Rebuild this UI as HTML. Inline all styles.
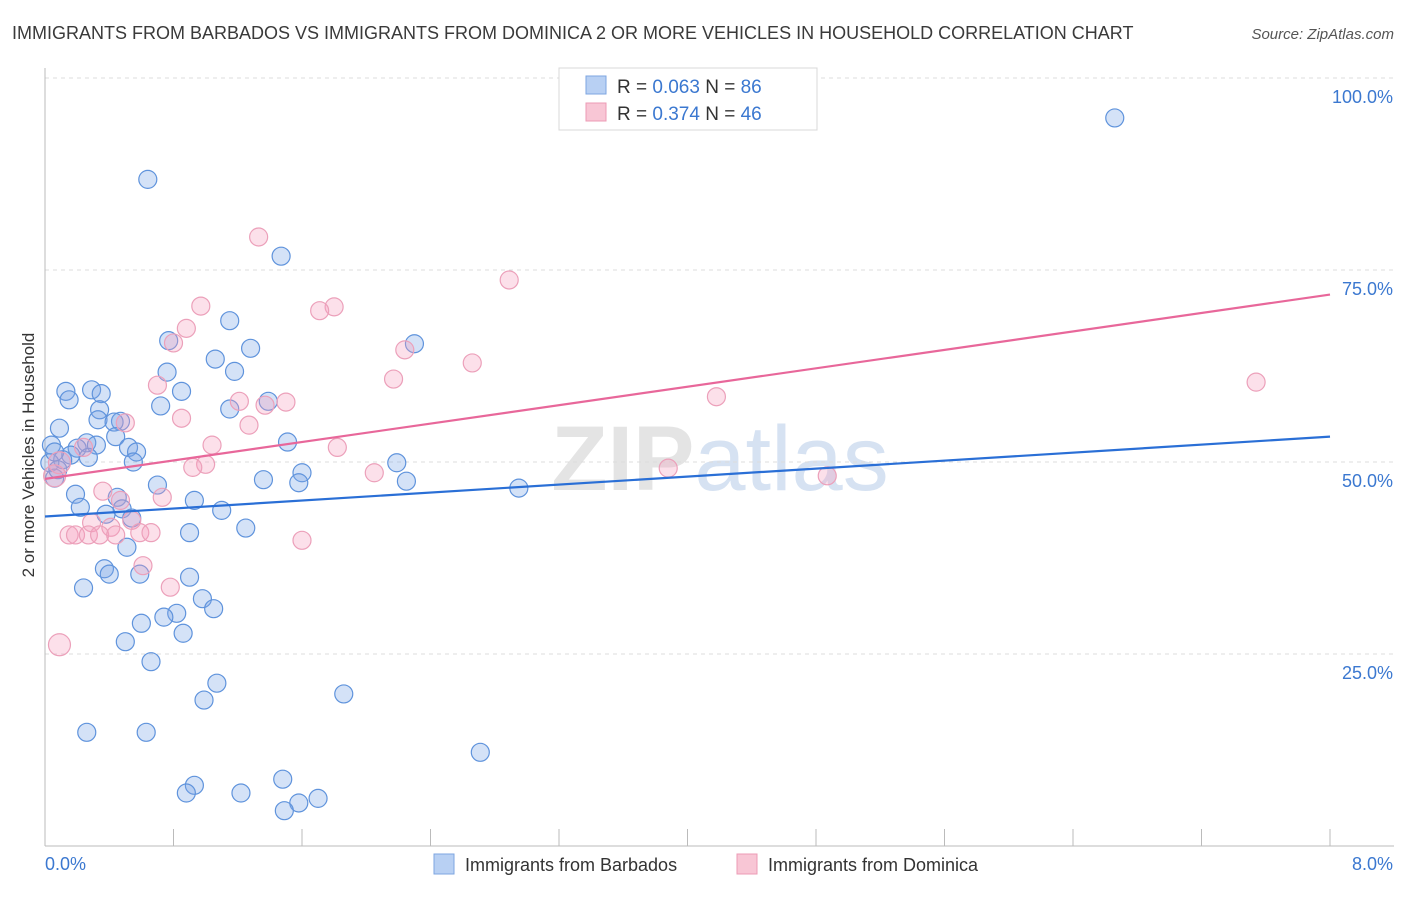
<!DOCTYPE html>
<html><head><meta charset="utf-8">
<style>
body{margin:0;background:#fff;font-family:"Liberation Sans",sans-serif;}
svg text{font-family:"Liberation Sans",sans-serif;}
</style></head>
<body>
<svg id="chart" width="1406" height="892" xmlns="http://www.w3.org/2000/svg">
<text x="12" y="39" font-size="18" fill="#3a3a3a">IMMIGRANTS FROM BARBADOS VS IMMIGRANTS FROM DOMINICA 2 OR MORE VEHICLES IN HOUSEHOLD CORRELATION CHART</text>
<text x="1394" y="39" font-size="15" fill="#555" text-anchor="end" font-style="italic">Source: ZipAtlas.com</text>
<text x="720" y="490" font-size="92" fill="#e4e4e4" text-anchor="middle" font-family="Liberation Serif" font-weight="bold">ZIP<tspan fill="#d6e2f2" font-family="Liberation Sans" font-weight="normal">atlas</tspan></text>
<g id="grid"></g>
<g id="axes"></g>
<g id="points"></g>
<g id="trends"></g>
<text transform="translate(34,455) rotate(-90)" font-size="17" fill="#333" text-anchor="middle">2 or more Vehicles in Household</text>
<g>
<rect x="559" y="68" width="258" height="62" fill="#fff" stroke="#d8d8d8"/>
<rect x="586" y="76" width="20" height="18" fill="#b8d0f3" stroke="#7ea6e0"/>
<rect x="586" y="103" width="20" height="18" fill="#f8c6d5" stroke="#ec9bb5"/>
<text x="617" y="93" font-size="19" fill="#333">R = <tspan fill="#3b78d0">0.063</tspan>   N = <tspan fill="#3b78d0">86</tspan></text>
<text x="617" y="120" font-size="19" fill="#333">R =  <tspan fill="#3b78d0">0.374</tspan>   N = <tspan fill="#3b78d0">46</tspan></text>
</g>
<g>
<rect x="434" y="854" width="20" height="20" fill="#b8d0f3" stroke="#7ea6e0"/>
<text x="465" y="871" font-size="18" fill="#333">Immigrants from Barbados</text>
<rect x="737" y="854" width="20" height="20" fill="#f8c6d5" stroke="#ec9bb5"/>
<text x="768" y="871" font-size="18" fill="#333">Immigrants from Dominica</text>
</g>
</svg>
<script>
const blueX=[6.66,0.64,1.47,1.15,0.77,1.28,2.30,1.06,1.18,0.76,0.13,0.29,0.35,0.85,0.15,1.39,0.72,1.15,0.34,0.33,0.47,0.43,0.09,0.44,1.51,0.04,0.26,0.32,0.52,0.57,0.20,0.16,0.27,0.11,0.55,2.19,0.03,1.60,1.36,1.58,2.25,0.06,0.70,2.95,0.19,0.45,0.93,0.22,0.48,1.10,0.38,0.54,1.25,0.90,0.51,0.37,0.40,0.59,0.90,0.24,0.98,1.05,0.82,0.74,0.60,0.86,0.50,0.66,1.07,1.86,0.99,0.26,0.63,2.71,0.93,1.48,0.88,1.22,1.70,1.58,1.49,0.06,0.08];
const blueY=[94.8,86.8,76.8,68.4,65.8,64.8,65.4,63.4,61.8,61.7,59.2,59.4,58.9,59.2,58.1,57.9,57.3,56.9,56.8,55.5,55.3,55.2,54.4,53.3,52.6,52.2,52.5,52.2,51.9,51.3,51.8,50.9,50.6,50.3,50.0,49.9,49.9,48.6,47.7,47.3,47.5,47.9,47.0,46.6,45.8,45.4,45.0,44.1,43.9,43.7,43.2,42.7,41.4,40.8,38.9,36.1,35.4,35.4,35.0,33.6,32.2,30.9,30.3,29.8,29.0,27.7,26.6,24.0,21.2,19.8,19.0,14.8,14.8,12.2,7.9,8.7,6.9,6.9,6.2,5.6,4.6,51.3,49.0];
const pinkX=[1.33,2.89,0.97,1.80,1.71,0.88,0.80,2.24,2.66,2.17,0.70,7.54,1.21,1.50,1.37,4.18,0.85,0.50,1.27,0.24,1.04,1.82,1.00,0.92,2.05,3.88,4.87,0.09,0.06,0.36,0.47,0.73,0.54,0.29,0.41,0.15,0.19,0.27,0.34,0.44,0.59,0.66,1.60,0.61,0.78,0.09];
const pinkY=[79.3,73.7,70.3,70.2,69.7,67.4,65.5,64.6,62.9,60.8,60.0,60.4,57.9,57.8,57.4,58.5,55.7,55.1,54.8,51.9,52.2,51.9,49.7,49.3,48.6,49.2,48.2,49.9,48.2,46.2,45.0,45.4,42.4,42.1,41.5,40.5,40.5,40.5,40.5,40.5,40.8,40.8,39.8,36.5,33.7,26.2];
const yTicks=[25,50,75,100];
const yTickLabels=["25.0%","50.0%","75.0%","100.0%"];
const blueTrend=[42.9,53.3];
const pinkTrend=[47.8,71.8];
const X0=45,X1=1330,Y0=846,Y100=78;
const sx=v=>X0+(v/8)*(X1-X0);
const sy=v=>Y0-(v/100)*(Y0-Y100);
const NS="http://www.w3.org/2000/svg";
function mk(tag,attrs,parent){const e=document.createElementNS(NS,tag);for(const k in attrs)e.setAttribute(k,attrs[k]);document.getElementById(parent).appendChild(e);return e;}
yTicks.forEach((t,i)=>{
  const l=mk('line',{x1:X0,x2:1394,y1:sy(t),y2:sy(t),stroke:'#dcdcdc','stroke-dasharray':'4,4'},'grid');
  
  
  const tx=mk('text',{x:1393,y:sy(t)+25,'font-size':18,fill:'#3b78d0','text-anchor':'end'},'grid');
  tx.textContent=yTickLabels[i];
  
  
});
const ax=mk('line',{x1:X0,x2:X0,y1:68,y2:846,stroke:'#bbb'},'axes');


const bx=mk('line',{x1:X0,x2:1394,y1:846,y2:846,stroke:'#bbb'},'axes');


for(let i=0;i<=10;i++){const t=mk('line',{x1:sx(i*0.8),x2:sx(i*0.8),y1:829,y2:846,stroke:'#bbb'},'axes');
  
  }
const xl=mk('text',{x:45,y:870,'font-size':18,fill:'#3b78d0'},'axes');xl.textContent='0.0%';


const xr=mk('text',{x:1393,y:870,'font-size':18,fill:'#3b78d0','text-anchor':'end'},'axes');xr.textContent='8.0%';


blueX.forEach((x,i)=>{const c=mk('circle',{cx:sx(x),cy:sy(blueY[i]),r:9,fill:'rgba(120,165,230,0.32)',stroke:'#5f93dc','stroke-width':1.2},'points');
  
  });
pinkX.forEach((x,i)=>{const c=mk('circle',{cx:sx(x),cy:sy(pinkY[i]),r:(i>=27&&i<=28)||i==45?11:9,fill:'rgba(245,160,190,0.32)',stroke:'#eca0ba','stroke-width':1.2},'points');
  
  });
const bl=mk('line',{x1:sx(0),y1:sy(blueTrend[0]),x2:sx(8),y2:sy(blueTrend[1]),stroke:'#2a6fd6','stroke-width':2.2},'trends');


const pl=mk('line',{x1:sx(0),y1:sy(pinkTrend[0]),x2:sx(8),y2:sy(pinkTrend[1]),stroke:'#e8679a','stroke-width':2.2},'trends');


</script>
</body></html>
